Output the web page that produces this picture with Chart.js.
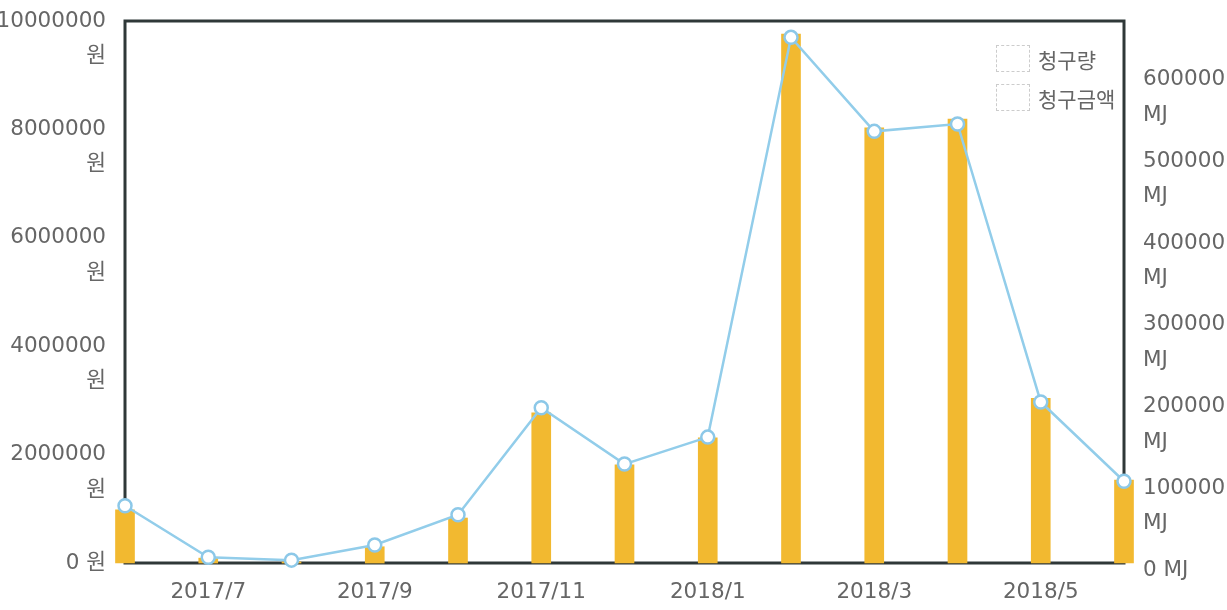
<!DOCTYPE html>
<html>
<head>
<meta charset="utf-8">
<script src="https://cdn.jsdelivr.net/npm/chart.js@4"></script>
<style>
    html, body { margin: 0; padding: 0; background: #fff; }
    #wrap { position: relative; width: 1227px; height: 610px; }
    #legend { position: absolute; left: 996px; top: 45px; font: 21px "DejaVu Sans", "Noto Sans CJK KR", sans-serif; color: #666; }
    .legend-item { display: flex; align-items: center; height: 27px; margin-bottom: 12px; }
    .legend-box { width: 34px; height: 27px; border: 1px dashed #ccc; background: #fff; margin-right: 8px; box-sizing: border-box; }
</style>
</head>
<body>
<div id="wrap">
    <canvas id="billChart" width="1227" height="610"></canvas>
    <div id="legend"></div>
</div>
<script>
// --- Data ---
const months = ['2017/6', '2017/7', '2017/8', '2017/9', '2017/10', '2017/11', '2017/12',
                '2018/1', '2018/2', '2018/3', '2018/4', '2018/5', '2018/6'];
// 청구량 (MJ), right axis
const usageMJ = [70000, 7000, 3500, 22000, 59000, 190000, 121000, 154000, 643000, 528000, 537000, 197000, 100000];
// 청구금액 (원), left axis
const amountWon = [980000, 90000, 20000, 300000, 830000, 2770000, 1810000, 2310000, 9760000, 8030000, 8190000, 3040000, 1530000];
const wonTicks = [0, 2000000, 4000000, 6000000, 8000000, 10000000];
const mjTicks = [0, 100000, 200000, 300000, 400000, 500000, 600000];

const tickFont = { family: '"DejaVu Sans", "Noto Sans CJK KR", sans-serif', size: 21.5, lineHeight: 1.65 };
const tickColor = '#666';

// frame around the plot area, drawn under the marks
const framePlugin = {
    id: 'frame',
    beforeDatasetsDraw(chart) {
        const { ctx, chartArea: a } = chart;
        ctx.save();
        ctx.strokeStyle = '#2f3838';
        ctx.lineWidth = 3;
        ctx.strokeRect(a.left, a.top, a.right - a.left, a.bottom - a.top);
        ctx.restore();
    }
};

function noPad(scale) {
    scale.paddingTop = 0;
    scale.paddingBottom = 0;
    scale.paddingLeft = 0;
    scale.paddingRight = 0;
}

const chart = new Chart(document.getElementById('billChart'), {
    data: {
        labels: months,
        datasets: [
            {
                type: 'line',
                label: '청구량',
                data: usageMJ,
                yAxisID: 'yMJ',
                borderColor: '#92cdea',
                borderWidth: 2.5,
                pointBackgroundColor: '#fff',
                pointBorderColor: '#8cc8e8',
                pointBorderWidth: 2.5,
                pointRadius: 6.5,
                tension: 0,
                clip: false,
                order: 0
            },
            {
                type: 'bar',
                label: '청구금액',
                data: amountWon,
                yAxisID: 'yWon',
                backgroundColor: '#f2b930',
                barThickness: 19,
                clip: false,
                order: 1
            }
        ]
    },
    options: {
        responsive: false,
        animation: false,
        layout: { padding: { top: 21, right: 0, bottom: 0, left: 0 } },
        plugins: {
            legend: { display: false },
            tooltip: { enabled: false }
        },
        scales: {
            x: {
                offset: false,
                grid: { display: false },
                border: { display: false },
                afterFit(s) { s.height = 47; noPad(s); },
                ticks: {
                    autoSkip: false,
                    maxRotation: 0,
                    padding: 4,
                    color: tickColor,
                    font: tickFont,
                    callback: (v, i) => (i % 2 === 1 ? months[i] : '')
                }
            },
            yWon: {
                position: 'left',
                min: 0,
                max: 10000000,
                grid: { display: false },
                border: { display: false },
                afterBuildTicks(s) { s.ticks = wonTicks.map(v => ({ value: v })); },
                afterFit(s) { s.width = 125; noPad(s); },
                ticks: {
                    autoSkip: false,
                    padding: 11,
                    color: tickColor,
                    font: tickFont,
                    callback: v => (v === 0 ? '0 원' : ['', String(v), '원'])
                }
            },
            yMJ: {
                position: 'right',
                min: 0,
                max: 663000,
                grid: { display: false },
                border: { display: false },
                afterBuildTicks(s) { s.ticks = mjTicks.map(v => ({ value: v })); },
                afterFit(s) { s.width = 103; noPad(s); },
                ticks: {
                    autoSkip: false,
                    padding: 11,
                    labelOffset: 7,
                    color: tickColor,
                    font: tickFont,
                    callback: v => (v === 0 ? '0 MJ' : ['', String(v), 'MJ'])
                }
            }
        }
    },
    plugins: [framePlugin]
});

// legend boxes (colourless in the reference)
const legendEl = document.getElementById('legend');
chart.data.datasets.forEach(ds => {
    const item = document.createElement('div');
    item.className = 'legend-item';
    item.innerHTML = `<span class="legend-box"></span><span>${ds.label}</span>`;
    legendEl.appendChild(item);
});
</script>
</body>
</html>
